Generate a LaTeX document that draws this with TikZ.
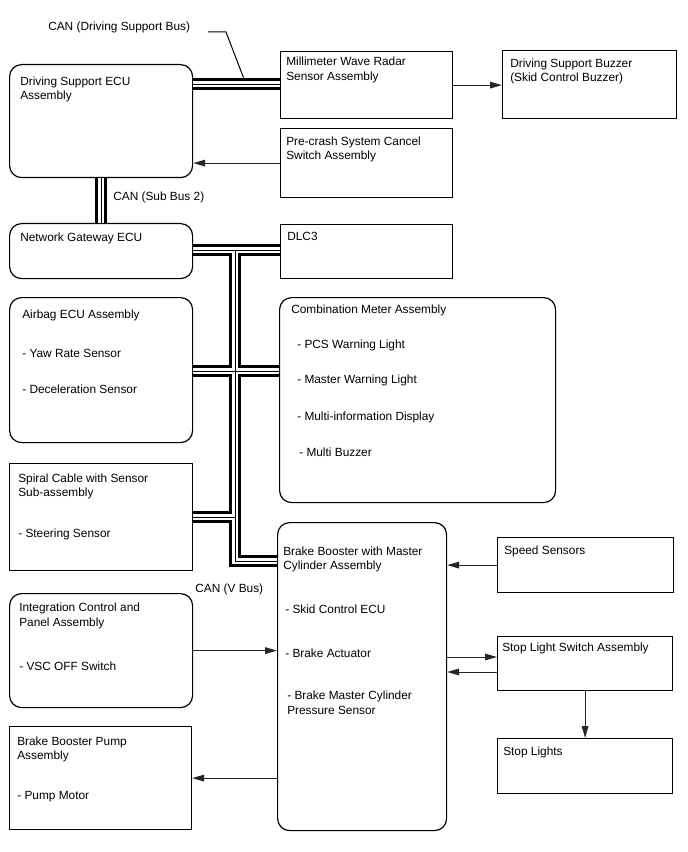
\documentclass[tikz,border=0pt]{standalone}
\usepackage{fontspec}
\setmainfont{Liberation Sans}
\usetikzlibrary{arrows.meta,calc}
\begin{document}
\begin{tikzpicture}[x=0.75pt,y=-0.75pt,
  font=\fontsize{8.9}{10.7}\selectfont,
  sq/.style={draw=black, line width=0.9pt, anchor=north west, inner sep=0pt, rectangle},
  rnd/.style={sq, rounded corners=9pt},
  txt/.style={anchor=base west, inner sep=0pt, text=black},
  arr/.style={draw=black!85, line width=0.75pt, -{Triangle[length=9pt,width=5pt]}},
  busA/.style={line width=8.4pt, draw=black},
  busB/.style={line width=4.4pt, draw=white},
  busC/.style={line width=0.7pt, draw=black},
]
\useasboundingbox (0,0) rectangle (688,852);

% boxes
\node[rnd, minimum width=137.25pt, minimum height=84.75pt] (dsecu) at (9,64) {};
\node[sq,  minimum width=129pt,    minimum height=50.25pt] (mmw)   at (280,51) {};
\node[sq,  minimum width=130.5pt,  minimum height=51pt]    (buzz)  at (502,50) {};
\node[sq,  minimum width=129pt,    minimum height=51.75pt] (pcs)   at (280,128) {};
\node[rnd, minimum width=137.25pt, minimum height=41.25pt] (ngw)   at (9,223) {};
\node[sq,  minimum width=129pt,    minimum height=40.5pt]  (dlc)   at (280,224) {};
\node[rnd, minimum width=137.25pt, minimum height=108.75pt] (airbag) at (9,297) {};
\node[rnd, minimum width=207pt,    minimum height=153.75pt] (comb)  at (279,297) {};
\node[sq,  minimum width=137.25pt, minimum height=80.25pt] (spiral) at (9,463) {};
\node[rnd, minimum width=126.75pt, minimum height=231pt]   (brake) at (277,522) {};
\node[sq,  minimum width=132pt,    minimum height=41.25pt] (speed) at (497,537) {};
\node[rnd, minimum width=137.25pt, minimum height=85.5pt]  (integ) at (9,593) {};
\node[sq,  minimum width=131.25pt, minimum height=40.5pt]  (sls)   at (497,636) {};
\node[sq,  minimum width=131.25pt, minimum height=41.25pt] (stopl) at (497,738) {};
\node[sq,  minimum width=136.5pt,  minimum height=77.25pt] (pump)  at (9,726) {};

% bus junction points
\coordinate (jT) at (235,250);
\coordinate (jC) at (235,371);
\coordinate (jS) at (235,517);
\coordinate (jB) at (235,561);
\coordinate (kA) at (101,0);

\newcommand\busnet{
  (dsecu.east |- 0,84) -- (mmw.west |- 0,84)
  (dsecu.south -| kA) -- (ngw.north -| kA)
  (ngw.east |- jT) -- (dlc.west |- jT)
  (jT) -- (jB) -- (brake.west |- jB)
  (airbag.east |- jC) -- (comb.west |- jC)
  (spiral.east |- jS) -- (jS)
}
\draw[busA] \busnet;
\draw[busB] \busnet;
\draw[busC] \busnet;

% texts
\node[txt] (tCANds) at (48,31) {CAN (Driving Support Bus)};
\coordinate (l1) at (208,32);
\coordinate (l2) at (226,32);
\coordinate (l3) at (244,79);
\draw[line width=0.75pt] (l1) -- (l2) -- (l3);

\node[txt] at (20,86) {Driving Support ECU};
\node[txt] at (20,100) {Assembly};
\node[txt] at (286,66) {Millimeter Wave Radar};
\node[txt] at (286,81) {Sensor Assembly};
\node[txt] at (510,68) {Driving Support Buzzer};
\node[txt] at (510,82) {(Skid Control Buzzer)};
\node[txt] at (286,146) {Pre-crash System Cancel};
\node[txt] at (286,160) {Switch Assembly};
\node[txt] (tCANsb) at (113,201) {CAN (Sub Bus 2)};
\node[txt] at (20,241) {Network Gateway ECU};
\node[txt] at (287,240) {DLC3};
\node[txt] at (22,318) {Airbag ECU Assembly};
\node[txt] at (22,357) {- Yaw Rate Sensor};
\node[txt] at (22,393) {- Deceleration Sensor};
\node[txt] at (291,313) {Combination Meter Assembly};
\node[txt] at (297,348) {- PCS Warning Light};
\node[txt] at (297,383) {- Master Warning Light};
\node[txt] at (297,420) {- Multi-information Display};
\node[txt] at (299,456) {- Multi Buzzer};
\node[txt] at (18,482) {Spiral Cable with Sensor};
\node[txt] at (18,496) {Sub-assembly};
\node[txt] at (18,537) {- Steering Sensor};
\node[txt] at (283,555) {Brake Booster with Master};
\node[txt] at (283,569) {Cylinder Assembly};
\node[txt] at (285,613) {- Skid Control ECU};
\node[txt] at (285,657) {- Brake Actuator};
\node[txt] at (287,699) {- Brake Master Cylinder};
\node[txt] at (287,714) {Pressure Sensor};
\node[txt] at (504,554) {Speed Sensors};
\node[txt] (tCANv) at (195,592) {CAN (V Bus)};
\node[txt] at (19,611) {Integration Control and};
\node[txt] at (19,626) {Panel Assembly};
\node[txt] at (19,670) {- VSC OFF Switch};
\node[txt] at (502,651) {Stop Light Switch Assembly};
\node[txt] at (503,755) {Stop Lights};
\node[txt] at (17,745) {Brake Booster Pump};
\node[txt] at (17,759) {Assembly};
\node[txt] at (17,799) {- Pump Motor};

% arrows
\draw[arr] (mmw.east) -- (buzz.west |- mmw.east);
\draw[arr] (pcs.west) -- (pcs.west -| dsecu.east);
\draw[arr] (speed.west) -- (speed.west -| brake.east);
\draw[arr] (integ.east) -- (integ.east -| brake.west);
\draw[arr] (brake.east |- 0,657) -- (sls.west |- 0,657);
\draw[arr] (sls.west |- 0,672) -- (brake.east |- 0,672);
\draw[arr] (sls.south) -- (stopl.north);
\draw[arr] (brake.west |- pump.east) -- (pump.east);
\end{tikzpicture}
\end{document}
